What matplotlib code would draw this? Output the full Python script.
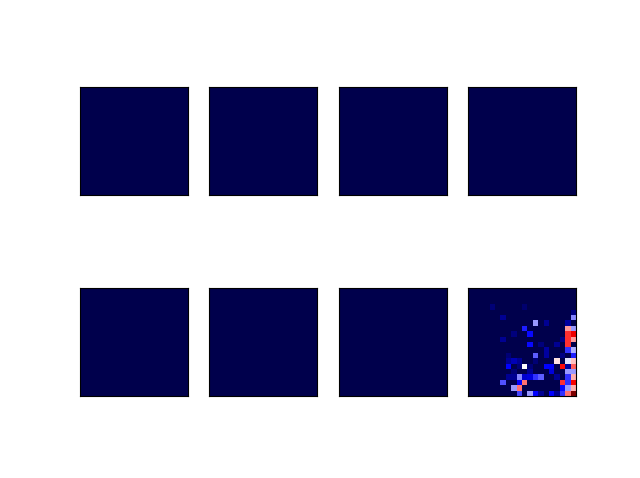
import numpy as np
import matplotlib
matplotlib.use("Agg")
import matplotlib.pyplot as plt

n_rows_grid = 20
n_cols_grid = 20

# Panels 1-7: empty (all zero) grids
empty_panels = 7

# Panel 8: sparse cells (row, col, value)
cell_rows = [3, 3, 4, 5, 5, 6, 6, 6, 7, 7, 7, 8, 8, 8, 8, 9, 9, 9, 9,
             10, 10, 10, 10, 11, 11, 11, 12, 12, 12, 12, 12,
             13, 13, 13, 13, 13, 13, 13,
             14, 14, 14, 14, 14, 14, 14, 14, 14,
             15, 15, 15, 15, 15,
             16, 16, 16, 16, 16, 16, 16, 16, 16, 16,
             17, 17, 17, 17, 17, 17,
             18, 18, 18, 18, 18,
             19, 19, 19, 19, 19, 19, 19, 19, 19]
cell_cols = [4, 10, 19, 6, 19, 12, 14, 18, 10, 18, 19, 8, 11, 18, 19, 6, 17, 18, 19,
             11, 13, 16, 18, 14, 18, 19, 7, 12, 14, 17, 19,
             7, 8, 9, 12, 16, 18, 19,
             7, 9, 10, 11, 14, 15, 17, 18, 19,
             8, 11, 15, 18, 19,
             7, 8, 9, 10, 11, 12, 13, 16, 18, 19,
             6, 9, 10, 17, 18, 19,
             8, 9, 17, 18, 19,
             9, 11, 12, 13, 15, 16, 17, 18, 19]
cell_vals = [0.06, 0.05, 0.08, 0.10, 0.38, 0.40, 0.10, 0.12, 0.28, 0.60, 0.40,
             0.07, 0.26, 0.70, 0.78, 0.10, 0.08, 0.70, 0.60,
             0.26, 0.07, 0.10, 0.70, 0.12, 0.30, 0.42, 0.06, 0.34, 0.12, 0.08, 0.28,
             0.10, 0.15, 0.10, 0.06, 0.53, 0.47, 0.56,
             0.25, 0.06, 0.50, 0.06, 0.25, 0.24, 0.74, 0.12, 0.66,
             0.06, 0.10, 0.20, 0.40, 0.40,
             0.10, 0.10, 0.38, 0.18, 0.20, 0.30, 0.34, 0.10, 0.30, 0.58,
             0.33, 0.25, 0.64, 0.70, 0.30, 0.76,
             0.40, 0.64, 0.26, 0.40, 0.58,
             0.32, 0.40, 0.25, 0.10, 0.25, 0.10, 0.30, 0.64, 1.00]

fig, axes = plt.subplots(2, 4, figsize=(6.4, 4.78), dpi=100)
axes = axes.ravel()

for i in range(empty_panels):
    axes[i].imshow(np.zeros((n_rows_grid, n_cols_grid)), cmap="seismic")

last = np.zeros((n_rows_grid, n_cols_grid))
last[cell_rows, cell_cols] = cell_vals
axes[7].imshow(last, cmap="seismic", interpolation="nearest")

for ax in axes:
    ax.set_xticks([])
    ax.set_yticks([])

fig.savefig("out.png", dpi=100)
